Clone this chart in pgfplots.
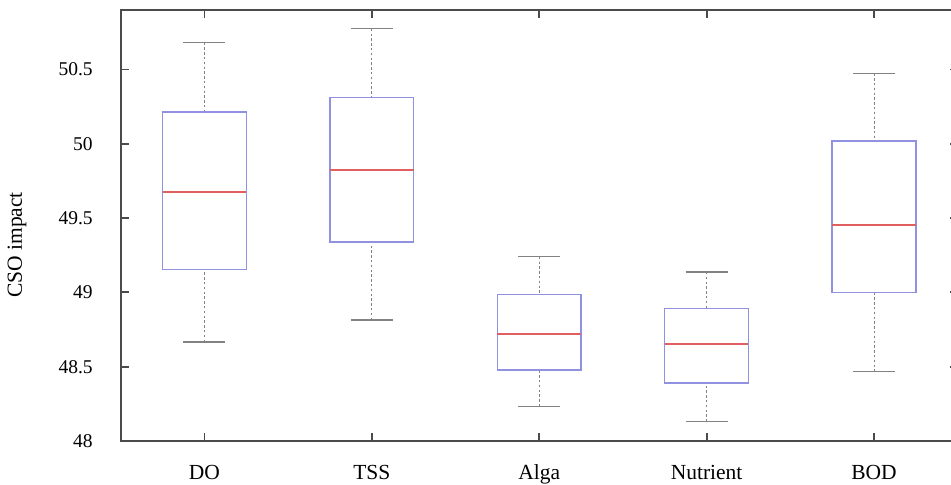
\documentclass[border=0pt]{standalone}
\usepackage{fontspec}
\setmainfont{Liberation Serif}
\usepackage{pgfplots}
\pgfplotsset{compat=1.18}
\usepgfplotslibrary{statistics}
\definecolor{boxc}{RGB}{145,145,225}
\definecolor{medc}{RGB}{225,95,95}
\definecolor{whc}{RGB}{130,130,130}
\definecolor{axc}{RGB}{75,75,75}

\begin{document}
\begin{tikzpicture}
\begin{axis}[
  name=ax,
  scale only axis, width=418.5pt, height=215.5pt,
  xmin=0.5, xmax=5.5, ymin=48, ymax=50.9,
  xtick={1,2,3,4,5}, xticklabels={DO,TSS,Alga,Nutrient,BOD},
  ytick={48,48.5,49,49.5,50,50.5},
  tick align=inside, tick pos=both,
  major tick length=4pt,
  axis line style={axc, line width=1pt},
  every tick/.style={axc, line width=0.9pt},
  /pgf/number format/assume math mode=true,
  yticklabel style={font=\fontsize{9.75}{11}\selectfont, xshift=-10.5pt},
  xticklabel style={font=\fontsize{10.75}{12}\selectfont, yshift=-8.5pt},
  ylabel={CSO impact},
  every axis y label/.style={at={(axis description cs:0,0.455)}, xshift=-51.85pt, rotate=90, anchor=center, font=\fontsize{10.75}{12}\selectfont},
  boxplot/draw direction=y,
  boxplot/box extend=0.5,
  boxplot/whisker extend=0.25,
  boxplot/every box/.style={draw=boxc, line width=0.7pt},
  boxplot/every median/.style={draw=medc, line width=1pt},
  boxplot/draw/lower whisker/.code={
    \draw[whc, line width=0.5pt, dash pattern=on 1.2pt off 1.2pt]
      (boxplot box cs:\pgfplotsboxplotvalue{lower whisker},0.5) --
      (boxplot box cs:\pgfplotsboxplotvalue{lower quartile},0.5);
    \draw[whc, line width=0.6pt]
      (boxplot whisker cs:\pgfplotsboxplotvalue{lower whisker},0) --
      (boxplot whisker cs:\pgfplotsboxplotvalue{lower whisker},1);
  },
  boxplot/draw/upper whisker/.code={
    \draw[whc, line width=0.5pt, dash pattern=on 1.2pt off 1.2pt]
      (boxplot box cs:\pgfplotsboxplotvalue{upper whisker},0.5) --
      (boxplot box cs:\pgfplotsboxplotvalue{upper quartile},0.5);
    \draw[whc, line width=0.6pt]
      (boxplot whisker cs:\pgfplotsboxplotvalue{upper whisker},0) --
      (boxplot whisker cs:\pgfplotsboxplotvalue{upper whisker},1);
  },
]
% DO
\addplot[boxplot prepared={draw position=1,
  lower whisker=48.666, lower quartile=49.155, median=49.674,
  upper quartile=50.214, upper whisker=50.680}] coordinates {};
% TSS
\addplot[boxplot prepared={draw position=2,
  lower whisker=48.814, lower quartile=49.339, median=49.826,
  upper quartile=50.310, upper whisker=50.773}] coordinates {};
% Alga
\addplot[boxplot prepared={draw position=3,
  lower whisker=48.233, lower quartile=48.478, median=48.722,
  upper quartile=48.987, upper whisker=49.240}] coordinates {};
% Nutrient
\addplot[boxplot prepared={draw position=4,
  lower whisker=48.130, lower quartile=48.390, median=48.651,
  upper quartile=48.893, upper whisker=49.137}] coordinates {};
% BOD
\addplot[boxplot prepared={draw position=5,
  lower whisker=48.466, lower quartile=48.998, median=49.452,
  upper quartile=50.019, upper whisker=50.474}] coordinates {};
\end{axis}
% crop like the reference: right axis edge falls just outside
\pgfresetboundingbox
\useasboundingbox ([xshift=-60.35pt,yshift=5pt]ax.north west) rectangle ([xshift=415.15pt,yshift=-22pt]ax.south west);
\end{tikzpicture}
\end{document}
